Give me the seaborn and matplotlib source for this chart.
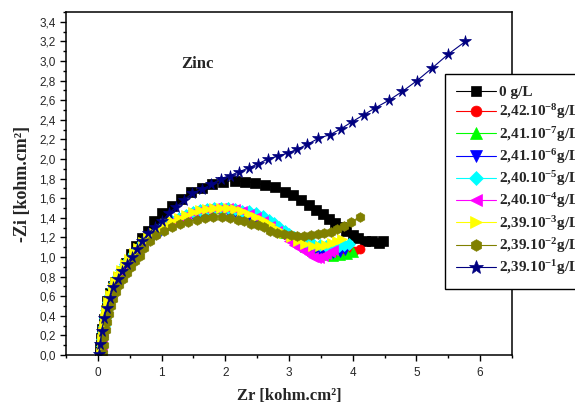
import matplotlib
matplotlib.use('Agg')
import matplotlib.pyplot as plt
import seaborn as sns
from matplotlib.ticker import MultipleLocator, FuncFormatter

# --- valori (Zr, -Zi in kohm.cm2) ---
labels = ['0 g/L', '2,42.10$^{-8}$g/L', '2,41.10$^{-7}$g/L', '2,41.10$^{-6}$g/L',
          '2,40.10$^{-5}$g/L', '2,40.10$^{-4}$g/L', '2,39.10$^{-3}$g/L',
          '2,39.10$^{-2}$g/L', '2,39.10$^{-1}$g/L']

zr_0 = [0.03, 0.04, 0.05, 0.07, 0.09, 0.12, 0.15, 0.19, 0.23, 0.27, 0.31, 0.38, 0.44, 0.52,
        0.60, 0.69, 0.78, 0.88, 1.01, 1.16, 1.31, 1.46, 1.63, 1.79, 1.96, 2.15, 2.31, 2.46,
        2.62, 2.78, 2.94, 3.06, 3.19, 3.32, 3.43, 3.53, 3.63, 3.72, 3.81, 3.90, 4.00, 4.09,
        4.19, 4.30, 4.41, 4.47]
zi_0 = [0.00, 0.08, 0.17, 0.27, 0.37, 0.46, 0.55, 0.63, 0.70, 0.75, 0.80, 0.86, 0.94, 1.03,
        1.11, 1.19, 1.27, 1.37, 1.45, 1.52, 1.59, 1.66, 1.70, 1.75, 1.77, 1.78, 1.77, 1.76,
        1.73, 1.71, 1.66, 1.63, 1.58, 1.53, 1.48, 1.44, 1.39, 1.35, 1.31, 1.27, 1.22, 1.19,
        1.16, 1.16, 1.14, 1.16]

# tratto iniziale comune alle curve colorate (sovrapposte nel grafico)
zr_rise = [0.05, 0.06, 0.07, 0.08, 0.09, 0.11, 0.13, 0.16, 0.19, 0.23, 0.27, 0.32, 0.37, 0.43,
           0.49, 0.56, 0.63, 0.71, 0.79, 0.88, 0.97, 1.07, 1.17, 1.27, 1.38, 1.49, 1.60, 1.71,
           1.82, 1.93, 2.04, 2.15, 2.26]
zi_rise = [0.02, 0.09, 0.16, 0.23, 0.30, 0.38, 0.46, 0.54, 0.61, 0.68, 0.75, 0.81, 0.87, 0.93,
           0.98, 1.04, 1.09, 1.15, 1.20, 1.25, 1.29, 1.33, 1.37, 1.40, 1.43, 1.46, 1.48, 1.49,
           1.50, 1.50, 1.50, 1.49, 1.47]

zr_red_tail = [2.37, 2.48, 2.59, 2.70, 2.81, 2.92, 3.03, 3.14, 3.25, 3.36, 3.47, 3.58, 3.69,
               3.80, 3.91, 4.02, 4.12]
zi_red_tail = [1.45, 1.43, 1.40, 1.36, 1.31, 1.26, 1.21, 1.16, 1.12, 1.08, 1.05, 1.03, 1.03,
               1.03, 1.04, 1.06, 1.08]

zr_green_tail = [2.37, 2.48, 2.59, 2.70, 2.81, 2.92, 3.03, 3.14, 3.25, 3.36, 3.47, 3.58, 3.69,
                 3.80, 3.91, 4.01]
zi_green_tail = [1.45, 1.42, 1.39, 1.35, 1.30, 1.25, 1.20, 1.15, 1.10, 1.06, 1.03, 1.02, 1.01,
                 1.02, 1.03, 1.05]

zr_blue_tail = [2.37, 2.48, 2.59, 2.70, 2.81, 2.92, 3.03, 3.14, 3.25, 3.36, 3.47, 3.58, 3.69,
                3.80, 3.88]
zi_blue_tail = [1.42, 1.39, 1.36, 1.32, 1.28, 1.23, 1.18, 1.13, 1.09, 1.06, 1.04, 1.04, 1.04,
                1.05, 1.07]

zr_cyan_tail = [2.37, 2.48, 2.59, 2.69, 2.77, 2.85, 2.93, 3.00, 3.08, 3.16, 3.27, 3.37, 3.48,
                3.58, 3.69, 3.79, 3.87, 3.94]
zi_cyan_tail = [1.47, 1.45, 1.42, 1.38, 1.35, 1.31, 1.27, 1.23, 1.20, 1.18, 1.15, 1.13, 1.12,
                1.11, 1.11, 1.11, 1.12, 1.13]

zr_mag_tail = [2.37, 2.48, 2.59, 2.70, 2.81, 2.92, 3.00, 3.08, 3.16, 3.24, 3.32, 3.37, 3.42,
               3.47, 3.53, 3.58, 3.64, 3.69]
zi_mag_tail = [1.44, 1.41, 1.37, 1.32, 1.27, 1.21, 1.16, 1.12, 1.09, 1.06, 1.03, 1.00, 0.99,
               0.99, 1.01, 1.03, 1.05, 1.07]

zr_yel_tail = [2.37, 2.48, 2.59, 2.70, 2.81, 2.92, 3.03, 3.14, 3.25, 3.37, 3.48, 3.58, 3.68,
               3.76, 3.83]
zi_yel_tail = [1.44, 1.41, 1.38, 1.34, 1.29, 1.25, 1.20, 1.16, 1.13, 1.11, 1.11, 1.12, 1.14,
               1.16, 1.18]

zr_olive = [0.08, 0.09, 0.10, 0.12, 0.14, 0.17, 0.20, 0.24, 0.28, 0.33, 0.39, 0.45, 0.52, 0.59,
            0.66, 0.73, 0.82, 0.92, 1.04, 1.17, 1.29, 1.42, 1.55, 1.68, 1.81, 1.95, 2.08, 2.20,
            2.30, 2.41, 2.51, 2.61, 2.70, 2.81, 2.92, 3.03, 3.13, 3.24, 3.34, 3.45, 3.55, 3.66,
            3.76, 3.86, 3.98, 4.11]
zi_olive = [0.02, 0.10, 0.18, 0.26, 0.34, 0.42, 0.50, 0.57, 0.64, 0.71, 0.78, 0.84, 0.90, 0.96,
            1.01, 1.09, 1.16, 1.22, 1.27, 1.31, 1.34, 1.36, 1.38, 1.40, 1.41, 1.41, 1.40, 1.38,
            1.37, 1.34, 1.33, 1.31, 1.27, 1.25, 1.23, 1.22, 1.21, 1.21, 1.22, 1.23, 1.24, 1.26,
            1.29, 1.32, 1.36, 1.41]

zr_star = [0.02, 0.04, 0.06, 0.10, 0.14, 0.19, 0.24, 0.31, 0.38, 0.45, 0.53, 0.61, 0.69, 0.79,
           0.90, 1.01, 1.12, 1.23, 1.35, 1.48, 1.63, 1.78, 1.93, 2.07, 2.22, 2.37, 2.51, 2.67,
           2.83, 2.98, 3.13, 3.29, 3.46, 3.65, 3.82, 3.99, 4.17, 4.35, 4.57, 4.78, 5.01, 5.25,
           5.50, 5.77]
zi_star = [0.01, 0.11, 0.24, 0.38, 0.48, 0.58, 0.69, 0.78, 0.86, 0.93, 1.00, 1.08, 1.16, 1.24,
           1.31, 1.37, 1.45, 1.51, 1.58, 1.65, 1.69, 1.74, 1.80, 1.83, 1.87, 1.91, 1.95, 2.00,
           2.03, 2.06, 2.10, 2.15, 2.21, 2.25, 2.31, 2.38, 2.45, 2.52, 2.60, 2.69, 2.80, 2.93,
           3.07, 3.20]

series = [
    (zr_0, zi_0),
    (zr_rise + zr_red_tail, zi_rise + zi_red_tail),
    (zr_rise + zr_green_tail, zi_rise + zi_green_tail),
    (zr_rise + zr_blue_tail, [v - 0.03 for v in zi_rise] + zi_blue_tail),
    (zr_rise + zr_cyan_tail, zi_rise + zi_cyan_tail),
    (zr_rise + zr_mag_tail, zi_rise + zi_mag_tail),
    (zr_rise + zr_yel_tail, zi_rise + zi_yel_tail),
    (zr_olive, zi_olive),
    (zr_star, zi_star),
]
colors = ['black', '#FF0000', '#00FF00', '#0000FF', '#00FFFF', '#FF00FF', '#FFFF00',
          '#808000', '#000080']
markers = ['s', 'o', '^', 'v', 'D', '<', '>', 'h', '*']
msizes = [6.5, 6.5, 7, 7, 6, 7, 7, 7, 8.5]

sns.set_style('ticks')
plt.rcParams['font.family'] = ['Liberation Serif', 'DejaVu Serif']
plt.rcParams['mathtext.fontset'] = 'custom'
plt.rcParams['mathtext.rm'] = 'Liberation Serif:bold'
plt.rcParams['mathtext.default'] = 'rm'

fig = plt.figure(figsize=(5.75, 4.07), dpi=100)
ax = fig.add_axes([66 / 575, 1 - 355 / 407, (512 - 66) / 575, (355 - 12) / 407])

for (x, y), lab, col, mk, ms in zip(series, labels, colors, markers, msizes):
    sns.lineplot(x=x, y=y, ax=ax, sort=False, color=col, marker=mk, label=lab,
                 markersize=ms, markeredgecolor=col,
                 markeredgewidth=0.5, linewidth=0.8, estimator=None)

ax.set_xlim(-0.5, 6.5)
ax.set_ylim(0, 3.5)
ax.xaxis.set_major_locator(MultipleLocator(1))
ax.xaxis.set_minor_locator(MultipleLocator(0.5))
ax.yaxis.set_major_locator(MultipleLocator(0.2))
ax.yaxis.set_minor_locator(MultipleLocator(0.1))
ax.yaxis.set_major_formatter(FuncFormatter(lambda v, p: f"{v:.1f}".replace('.', ',')))
ax.xaxis.set_major_formatter(FuncFormatter(lambda v, p: f"{v:.0f}"))
ax.tick_params(which='major', length=4, width=1, color='black', labelsize=8.5,
               labelfontfamily='Liberation Sans')
ax.tick_params(axis='x', which='major', pad=5)
ax.tick_params(which='minor', length=2, width=1, color='black')
for s in ax.spines.values():
    s.set_color('black')
    s.set_linewidth(1.1)

ax.set_xlabel('Zr [kohm.cm²]', fontsize=12, fontweight='bold', labelpad=6)
ax.set_ylabel('-Zi [kohm.cm²]', fontsize=13, fontweight='bold', labelpad=6)
ax.text(1.57, 2.97, 'Zinc', fontsize=12, fontweight='bold', ha='center', va='center')

leg = ax.legend(loc='upper left', bbox_to_anchor=(445 / 575, 1 - 74 / 407),
                bbox_transform=fig.transFigure, borderaxespad=0, frameon=True,
                fancybox=False, edgecolor='black', framealpha=1,
                prop={'family': 'Liberation Serif', 'weight': 'bold', 'size': 11},
                handlelength=2.6, handletextpad=0.2, labelspacing=0.22, borderpad=0.75,
                markerscale=1.2)
leg.get_frame().set_linewidth(1.0)

fig.savefig('out.png', dpi=100)
